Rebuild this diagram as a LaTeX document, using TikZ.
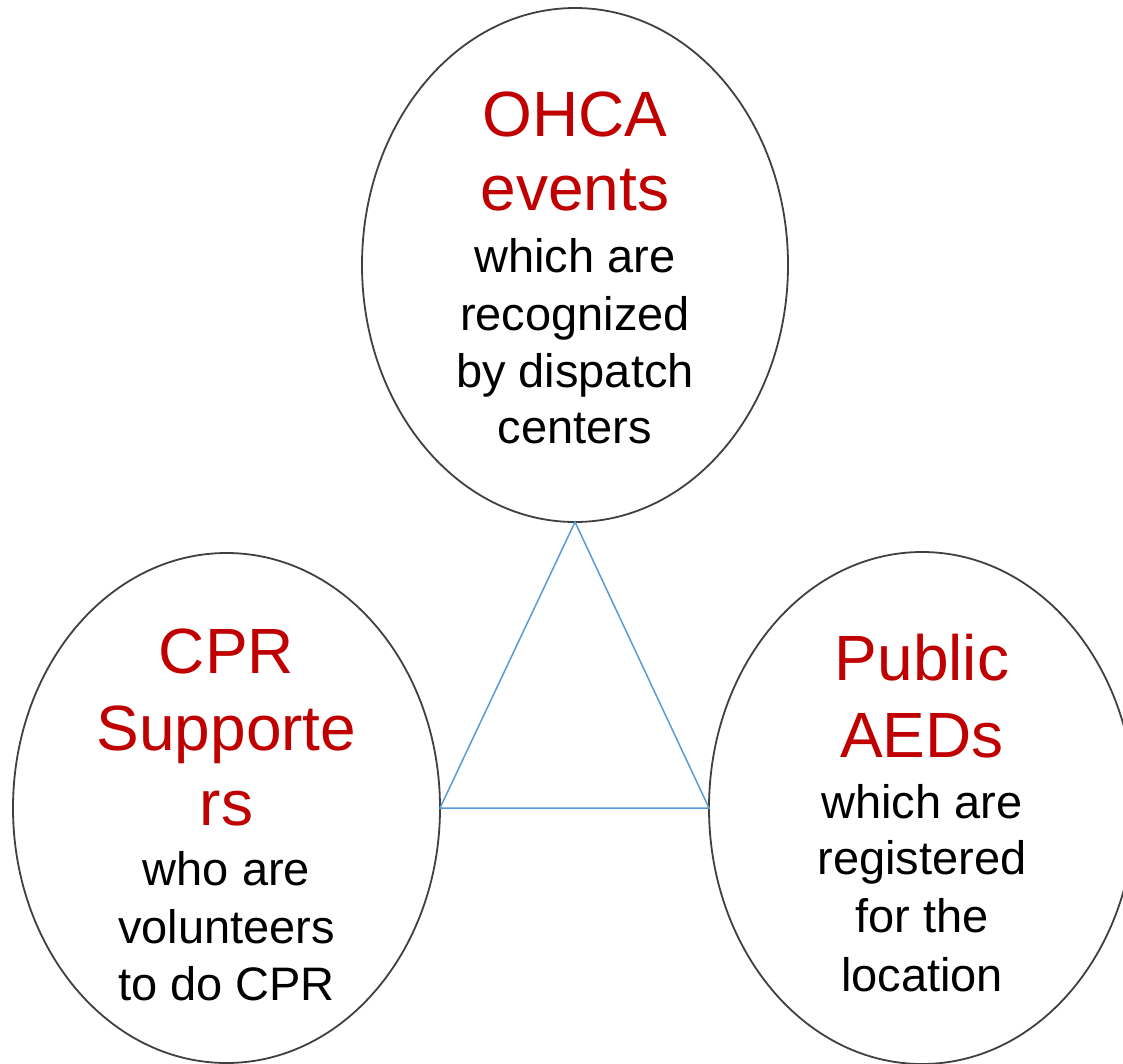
\documentclass[tikz,border=0pt]{standalone}
\usepackage{fontspec}
\setmainfont{Liberation Sans}
\usetikzlibrary{shapes.geometric}
\definecolor{hdred}{RGB}{192,0,0}
\definecolor{tri}{RGB}{91,155,213}
\definecolor{rim}{RGB}{64,64,64}
\tikzset{
  oval/.style={ellipse, draw=rim, line width=1.8pt, inner sep=0pt, outer sep=0pt},
  head/.style={anchor=base, text=hdred, font=\fontsize{64}{70}\selectfont, inner sep=0pt},
  body/.style={anchor=base, text=black, font=\fontsize{47}{54}\selectfont, inner sep=0pt},
  link/.style={draw=tri, line width=1.5pt}
}
\begin{document}
\begin{tikzpicture}[x=1pt,y=-1pt]
\useasboundingbox (0,0) rectangle (1123,1063);
\fill[white] (0,0) rectangle (1123,1063);
\node[oval, minimum width=426pt, minimum height=514pt] (top) at (575,265) {};
\node[oval, minimum width=427pt, minimum height=510pt] (left) at (226.5,808) {};
\node[oval, minimum width=426pt, minimum height=512pt] (right) at (922,808) {};
\draw[link] (top.south) -- (left.east) -- (right.west) -- cycle;
% top texts
\node[head] (t1) at (575,136) {OHCA};
\node[head] (t2) at (575,210) {events};
\node[body] (t3) at (575,272) {which are};
\node[body] (t4) at (575,330) {recognized};
\node[body] (t5) at (575,387) {by dispatch};
\node[body] (t6) at (575,443) {centers};
% left texts
\node[head] (l1) at (226.5,673) {CPR};
\node[head] (l2) at (226.5,750) {Supporte};
\node[head] (l3) at (226.5,825) {rs};
\node[body] (l4) at (226.5,885) {who are};
\node[body] (l5) at (226.5,943) {volunteers};
\node[body] (l6) at (226.5,1000) {to do CPR};
% right texts
\node[head] (r1) at (922,680) {Public};
\node[head] (r2) at (922,757) {AEDs};
\node[body] (r3) at (922,818) {which are};
\node[body] (r4) at (922,874) {registered};
\node[body] (r5) at (922,932) {for the};
\node[body] (r6) at (922,991) {location};
\end{tikzpicture}
\end{document}
